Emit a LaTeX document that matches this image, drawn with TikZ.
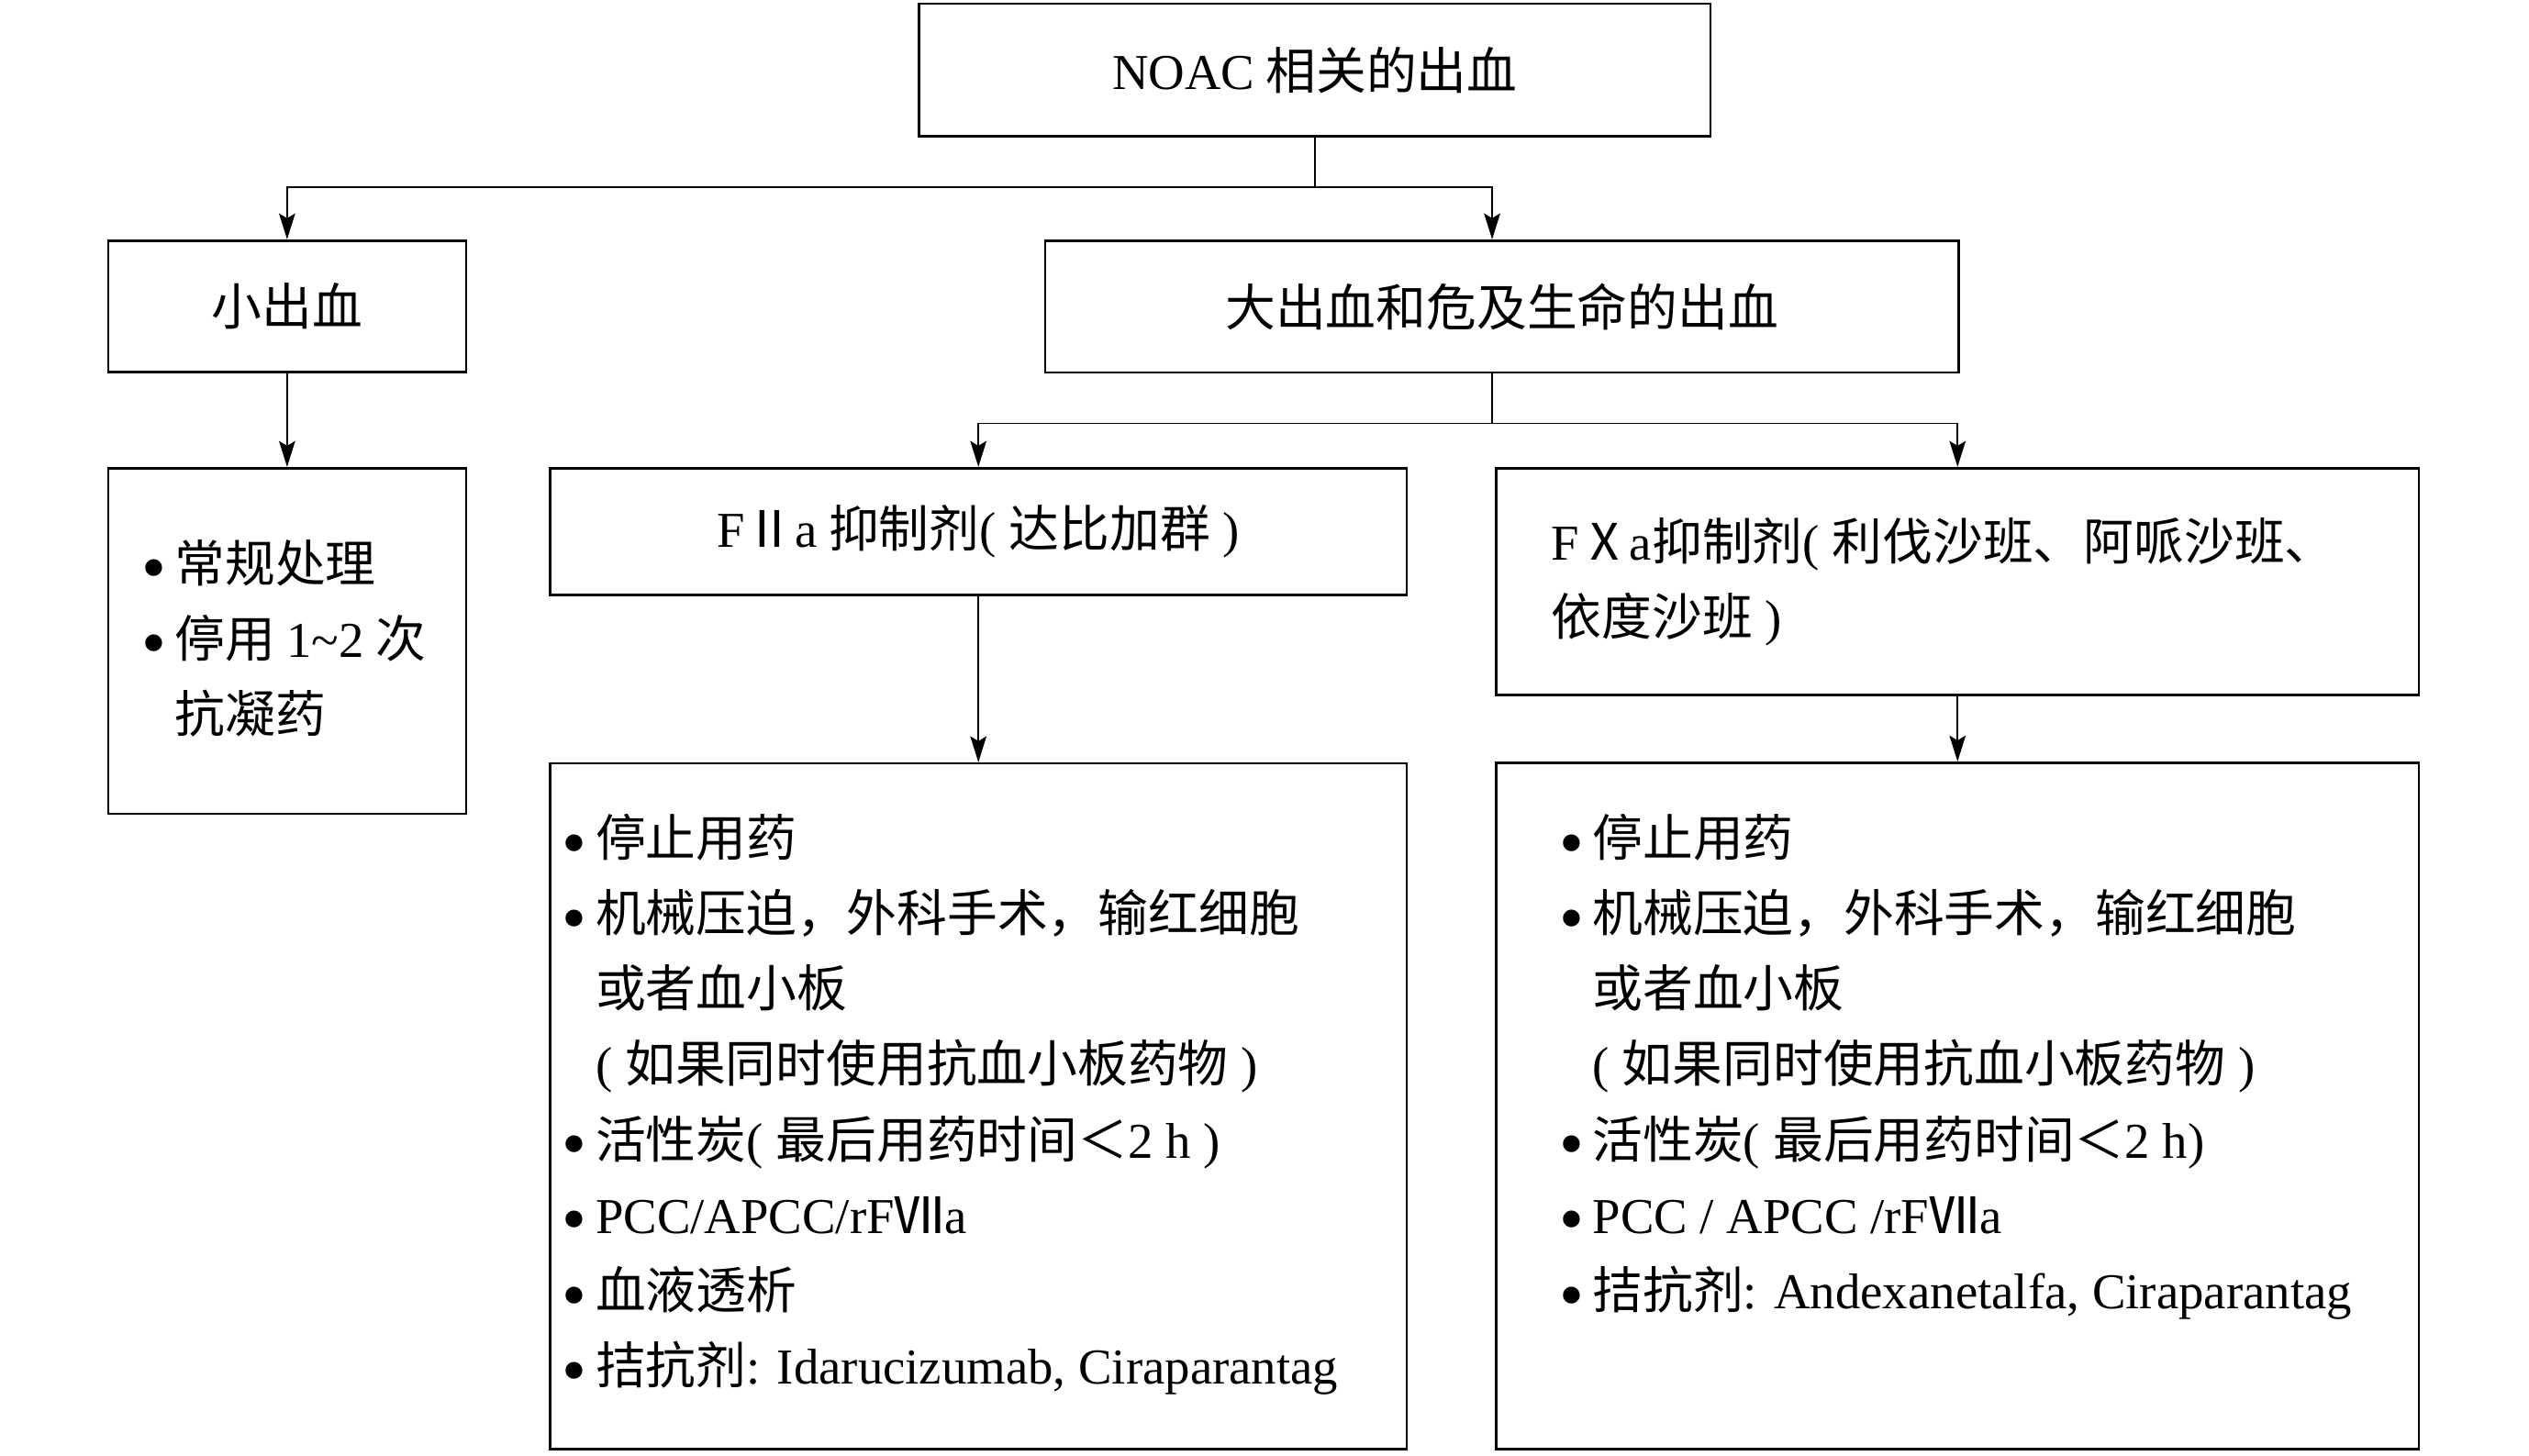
\documentclass[tikz,border=0pt]{standalone}
\usepackage{fontspec}
\usepackage{graphicx}
\setmainfont{Noto Sans CJK SC}
\newfontfamily\enfont{Liberation Serif}
\usetikzlibrary{arrows.meta}

\newcommand{\en}[1]{{\enfont #1}}
\newcommand{\itm}{\hspace*{-4.5pt}\raisebox{-6pt}{\scalebox{1.4}{\en{\textbullet}}}\hspace{5.5pt}}
\newcommand{\lp}{\en{(}\hspace{8pt}}
\newcommand{\rp}{\hspace{8pt}\en{)}}

\tikzset{
  box/.style={draw, line width=1.5pt, inner sep=0pt, align=center},
  link/.style={line width=1pt},
  arr/.style={link, -{Stealth[length=16pt,width=10pt,inset=3pt]}},
  listtext/.style={inner sep=0pt, align=left, anchor=north west}
}

\begin{document}
\begin{tikzpicture}[x=1pt,y=1pt,yscale=-1,xscale=1,font=\fontsize{31pt}{46.5pt}\selectfont]
\useasboundingbox (0,0) rectangle (1560,898);

%Shape: Rectangle top
\node[box, minimum width=488pt, minimum height=81.7pt] (noac) at (811,43.2) {\en{NOAC} 相关的出血};
%Shape: Rectangle second row
\node[box, minimum width=220.8pt, minimum height=81.2pt] (minor) at (177.1,189) {小出血};
\node[box, minimum width=563.3pt, minimum height=81.4pt] (major) at (926.4,189.1) {大出血和危及生命的出血};
%Shape: Rectangle third row
\node[box, minimum width=220.8pt, minimum height=213.2pt, align=left] (care) at (177.1,395.4)
  {\itm 常规处理\\ \itm 停用 \en{1\textasciitilde2} 次\\ \phantom{\itm}抗凝药};
\node[box, minimum width=528.3pt, minimum height=78.2pt] (fii) at (603.5,327.9)
  {\en{F}Ⅱ\en{a} 抑制剂\lp 达比加群\rp};
\node[box, minimum height=140pt, inner xsep=34pt, text width=501pt, align=left] (fxa) at (1207.5,358.8)
  {\en{F}Ⅹ\en{a}抑制剂\lp 利伐沙班、阿哌沙班、\\依度沙班\rp};
%Shape: Rectangle bottom row
\node[box, minimum width=528.3pt, minimum height=423pt] (stopii) at (603.5,682.5) {};
\node[box, minimum width=569pt, minimum height=423.5pt] (stopxa) at (1207.5,682.3) {};

% Text Node
\node[listtext] (stopiitext) at (351,502) {\itm 停止用药\\
  \itm 机械压迫，外科手术，输红细胞\\
  \phantom{\itm}或者血小板\\
  \phantom{\itm}\lp 如果同时使用抗血小板药物\rp\\
  \itm 活性炭\lp 最后用药时间＜\en{2 h}\rp\\
  \itm \en{PCC/APCC/rF}Ⅶ\en{a}\\
  \itm 血液透析\\
  \itm 拮抗剂\en{: Idarucizumab, Ciraparantag}};
% Text Node
\node[listtext] (stopxatext) at (966,502) {\itm 停止用药\\
  \itm 机械压迫，外科手术，输红细胞\\
  \phantom{\itm}或者血小板\\
  \phantom{\itm}\lp 如果同时使用抗血小板药物\rp\\
  \itm 活性炭\lp 最后用药时间＜\en{2 h)}\\
  \itm \en{PCC / APCC /rF}Ⅶ\en{a}\\
  \itm 拮抗剂\en{: Andexanetalfa, Ciraparantag}};

%Connectors
\draw[link] (noac.south) -- ++(0,30.6) coordinate (split);
\draw[arr] (split) -| (minor.north);
\draw[arr] (split) -| ([xshift=-6pt]major.north);
\draw[arr] (minor.south) -- (care.north);
\draw[link] ([xshift=-6pt]major.south) -- ++(0,30.7) coordinate (splitb);
\draw[arr] (splitb) -| (fii.north);
\draw[arr] (splitb) -| (fxa.north);
\draw[arr] (fii.south) -- (stopii.north);
\draw[arr] (fxa.south) -- (stopxa.north);

\end{tikzpicture}
\end{document}
